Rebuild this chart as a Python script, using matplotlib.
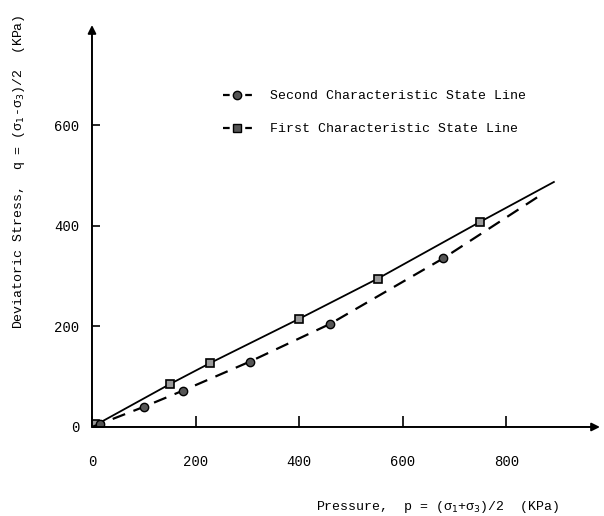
import matplotlib.pyplot as plt
from matplotlib.lines import Line2D

# first characteristic state line (squares)
p_first = [5, 150, 228, 400, 552, 750]
q_first = [5, 85, 127, 215, 295, 408]
line_first_p = [0, 150, 228, 400, 552, 750, 892]
line_first_q = [0, 85, 127, 215, 295, 408, 487]

# second characteristic state line (circles)
p_second = [15, 100, 175, 305, 460, 678]
q_second = [5, 40, 72, 130, 205, 335]
line_second_p = [0, 100, 175, 305, 460, 678, 868]
line_second_q = [0, 40, 72, 130, 205, 335, 462]

xticks = [0, 200, 400, 600, 800]
yticks = [0, 200, 400, 600]

plt.rcParams['font.family'] = ['Liberation Mono', 'DejaVu Sans Mono']

fig = plt.figure(figsize=(6.04, 5.16), dpi=100)
ax = fig.add_axes([0.1523, 0.1725, 0.841, 0.779])

ax.plot(line_first_p, line_first_q, color='black', lw=1.3)
ax.plot(p_first, q_first, 's', ms=6, mfc='#999999', mec='black', mew=1.2)
ax.plot(line_second_p, line_second_q, color='black', lw=1.6, dashes=(6, 4))
ax.plot(p_second, q_second, 'o', ms=6, mfc='#555555', mec='black', mew=1)

ax.set_xlim(0, 981)
ax.set_ylim(0, 799)

for s in ax.spines.values():
    s.set_visible(False)
ax.annotate('', xy=(1.0, 0), xytext=(0, 0), xycoords='axes fraction',
            arrowprops=dict(arrowstyle='-|>', color='black', lw=1.4,
                            mutation_scale=12, shrinkA=0, shrinkB=0))
ax.annotate('', xy=(0, 1.0), xytext=(0, 0), xycoords='axes fraction',
            arrowprops=dict(arrowstyle='-|>', color='black', lw=1.4,
                            mutation_scale=12, shrinkA=0, shrinkB=0))

ax.set_xticks(xticks)
ax.set_yticks(yticks)
ax.tick_params(axis='x', direction='in', length=8, width=1.2, pad=20, labelsize=10)
ax.tick_params(axis='y', direction='in', length=6, width=1.2, pad=9, labelsize=10)

ax.set_xlabel('Pressure,  p = (σ$_1$+σ$_3$)/2  (KPa)', fontsize=9.5)
ax.xaxis.set_label_coords(0.68, -0.178)
ax.set_ylabel('Deviatoric Stress,  q = (σ$_1$-σ$_3$)/2  (KPa)', fontsize=9.5)
ax.yaxis.set_label_coords(-0.127, 0.635)

handles = [
    Line2D([], [], color='black', lw=1.6, dashes=(3, 2), marker='o', ms=6,
           mfc='#555555', mec='black'),
    Line2D([], [], color='black', lw=1.6, dashes=(3, 2), marker='s', ms=6,
           mfc='#555555', mec='black'),
]
labels = ['Second Characteristic State Line', 'First Characteristic State Line']
ax.legend(handles, labels, loc='upper left', bbox_to_anchor=(0.36, 0.836),
          bbox_transform=fig.transFigure, frameon=False, fontsize=9.5,
          handlelength=2.2, labelspacing=1.6, handletextpad=1.4, borderaxespad=0)

fig.savefig('out.png', dpi=100)
